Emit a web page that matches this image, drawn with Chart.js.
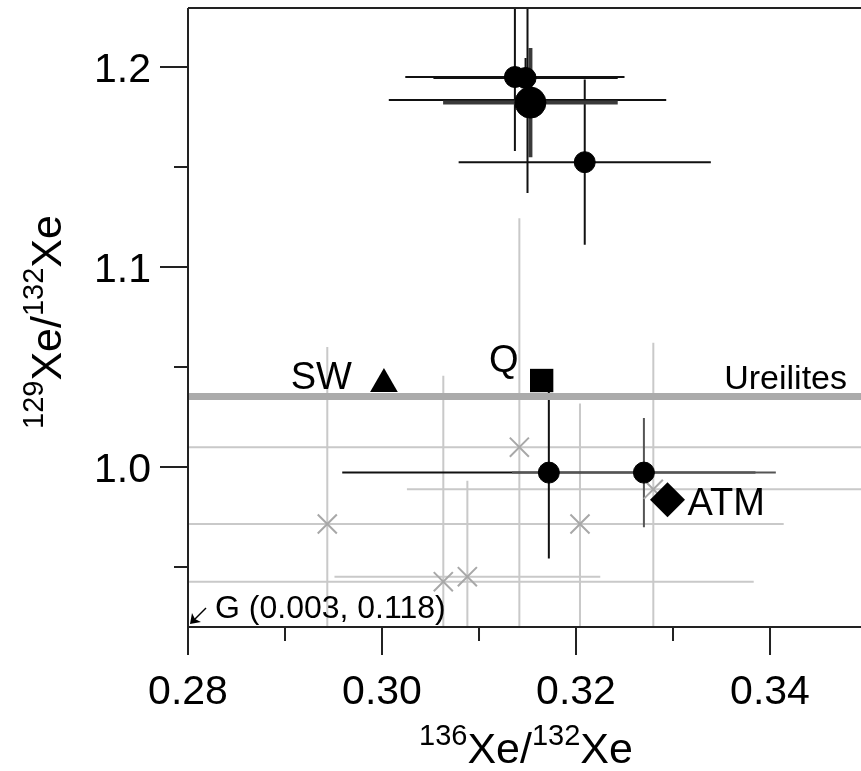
<!DOCTYPE html>
<html>
<head>
<meta charset="utf-8">
<script src="https://cdn.jsdelivr.net/npm/chart.js@4.4.1/dist/chart.umd.min.js"></script>
<style>
  html, body { margin: 0; padding: 0; background: #fff; }
  #wrap { width: 861px; height: 771px; }
</style>
</head>
<body>
<div id="wrap"><canvas id="xeChart" width="861" height="771"></canvas></div>
<script>
// axis ranges and ticks
const xMin = 0.28, xMax = 0.34938;
const yMin = 0.92, yMax = 1.2295;
const xTicksMajor = [0.28, 0.30, 0.32, 0.34];
const xTickLabels = ["0.28", "0.30", "0.32", "0.34"];
const xTicksMinor = [0.29, 0.31, 0.33];
const yTicksMajor = [1.0, 1.1, 1.2];
const yTickLabels = ["1.0", "1.1", "1.2"];
const yTicksMinor = [0.95, 1.05, 1.15];

// black data points (136/132, 129/132) with 1 sigma errors
const blackX = [0.3137, 0.3148, 0.3150, 0.3209, 0.3172, 0.3270];
const blackY = [1.1950, 1.1945, 1.1835, 1.1524, 0.9972, 0.9972];
const blackXErr = [0.0113, 0.0095, 0.0143, 0.0130, 0.0213, 0.0136];
const blackYErr = [0.0370, 0.0100, 0.0465, 0.0413, 0.0430, 0.0273];
const blackBarColor = ["#111", "#111", "#111", "#111", "#111", "#555"];

// the large point
const bigX = [0.3153];
const bigY = [1.1822];
const bigXErr = [0.0090];
const bigYErr = [0.0273];

// grey crosses
const greyX = [0.31416, 0.29436, 0.30632, 0.30880, 0.32041, 0.32797];
const greyY = [1.0099, 0.9715, 0.94265, 0.94515, 0.9715, 0.98885];
const greyXErr = [0.040, 0.040, 0.032, 0.0137, 0.021, 0.0254];
const greyYErr = [0.1145, 0.0885, 0.103, 0.048, 0.0603, 0.0733];

// reference components
const swPoint = { x: 0.3002, y: 1.0415 };
const qPoint = { x: 0.31646, y: 1.04325 };
const atmPoint = { x: 0.32943, y: 0.9836 };
const ureiliteY = 1.0352;

const FONT = '"Liberation Sans", Arial, Helvetica, sans-serif';

function toPts(xs, ys) {
  return xs.map((x, i) => ({ x: x, y: ys[i] }));
}

function drawBars(ctx, sx, sy, xs, ys, ex, ey, color, width) {
  xs.forEach((x, i) => {
    const px = sx.getPixelForValue(x), py = sy.getPixelForValue(ys[i]);
    ctx.strokeStyle = Array.isArray(color) ? color[i] : color;
    ctx.lineWidth = width;
    ctx.beginPath();
    ctx.moveTo(sx.getPixelForValue(x - ex[i]), py);
    ctx.lineTo(sx.getPixelForValue(x + ex[i]), py);
    ctx.moveTo(px, sy.getPixelForValue(ys[i] - ey[i]));
    ctx.lineTo(px, sy.getPixelForValue(ys[i] + ey[i]));
    ctx.stroke();
  });
}

function supText(ctx, parts, x, y, big, small) {
  // parts: [text, isSup]
  let cx = x;
  parts.forEach(p => {
    ctx.font = (p[1] ? small : big) + "px " + FONT;
    ctx.fillText(p[0], cx, p[1] ? y - big * 0.42 : y);
    cx += ctx.measureText(p[0]).width;
  });
  return cx - x;
}

function measureSup(ctx, parts, big, small) {
  let w = 0;
  parts.forEach(p => {
    ctx.font = (p[1] ? small : big) + "px " + FONT;
    w += ctx.measureText(p[0]).width;
  });
  return w;
}

const decor = {
  id: "decor",
  beforeDatasetsDraw(chart) {
    const { ctx, chartArea: a } = chart;
    const sx = chart.scales.x, sy = chart.scales.y;
    ctx.save();
    ctx.beginPath();
    ctx.rect(a.left, a.top, a.right - a.left, a.bottom - a.top);
    ctx.clip();
    drawBars(ctx, sx, sy, greyX, greyY, greyXErr, greyYErr, "#c9c9c9", 2);
    drawBars(ctx, sx, sy, blackX, blackY, blackXErr, blackYErr, blackBarColor, 2);
    drawBars(ctx, sx, sy, bigX, bigY, bigXErr, bigYErr, "#3a3a3a", 4);
    ctx.restore();
  },
  afterDraw(chart) {
    const { ctx, chartArea: a } = chart;
    const sx = chart.scales.x, sy = chart.scales.y;
    ctx.save();
    ctx.strokeStyle = "#222";
    ctx.fillStyle = "#000";
    ctx.lineWidth = 2;

    // frame: left, bottom, top
    ctx.beginPath();
    ctx.moveTo(a.left, a.top);
    ctx.lineTo(a.right, a.top);
    ctx.moveTo(a.left, a.top);
    ctx.lineTo(a.left, a.bottom);
    ctx.lineTo(a.right, a.bottom);
    ctx.stroke();

    // tick marks
    ctx.beginPath();
    xTicksMajor.forEach(v => { const p = sx.getPixelForValue(v); ctx.moveTo(p, a.bottom); ctx.lineTo(p, a.bottom + 28); });
    xTicksMinor.forEach(v => { const p = sx.getPixelForValue(v); ctx.moveTo(p, a.bottom); ctx.lineTo(p, a.bottom + 14); });
    yTicksMajor.forEach(v => { const p = sy.getPixelForValue(v); ctx.moveTo(a.left, p); ctx.lineTo(a.left - 28, p); });
    yTicksMinor.forEach(v => { const p = sy.getPixelForValue(v); ctx.moveTo(a.left, p); ctx.lineTo(a.left - 14, p); });
    ctx.stroke();

    // tick labels
    ctx.font = "41px " + FONT;
    ctx.textAlign = "center";
    ctx.textBaseline = "alphabetic";
    xTicksMajor.forEach((v, i) => ctx.fillText(xTickLabels[i], sx.getPixelForValue(v), 704));
    ctx.textAlign = "right";
    yTicksMajor.forEach((v, i) => ctx.fillText(yTickLabels[i], 151, sy.getPixelForValue(v) + 15));

    // axis titles with superscripts
    ctx.textAlign = "left";
    const xt = [["136", true], ["Xe/", false], ["132", true], ["Xe", false]];
    const xw = measureSup(ctx, xt, 43, 29);
    supText(ctx, xt, 526 - xw / 2, 763, 43, 29);
    const yt = [["129", true], ["Xe/", false], ["132", true], ["Xe", false]];
    const yw = measureSup(ctx, yt, 43, 29);
    ctx.save();
    ctx.translate(61, 322);
    ctx.rotate(-Math.PI / 2);
    supText(ctx, yt, -yw / 2, 0, 43, 29);
    ctx.restore();

    // component labels
    ctx.font = "38px " + FONT;
    ctx.textAlign = "right";
    ctx.fillText("SW", sx.getPixelForValue(swPoint.x) - 32, sy.getPixelForValue(swPoint.y) + 5);
    ctx.textAlign = "center";
    ctx.fillText("Q", sx.getPixelForValue(qPoint.x) - 38, sy.getPixelForValue(qPoint.y) - 9);
    ctx.textAlign = "left";
    ctx.fillText("ATM", sx.getPixelForValue(atmPoint.x) + 20, sy.getPixelForValue(atmPoint.y) + 15);
    ctx.font = "34px " + FONT;
    ctx.textAlign = "right";
    ctx.fillText("Ureilites", a.right - 14, sy.getPixelForValue(ureiliteY) - 8);

    // G arrow, pointing off the plot
    const tipX = a.left + 2, tipY = a.bottom - 3;
    ctx.strokeStyle = "#000";
    ctx.lineWidth = 1.5;
    ctx.beginPath();
    ctx.moveTo(tipX + 16, tipY - 16);
    ctx.lineTo(tipX + 3, tipY - 3);
    ctx.stroke();
    ctx.beginPath();
    ctx.moveTo(tipX, tipY);
    ctx.lineTo(tipX + 2, tipY - 11);
    ctx.lineTo(tipX + 5, tipY - 5);
    ctx.lineTo(tipX + 11, tipY - 2);
    ctx.closePath();
    ctx.fill();
    ctx.font = "32px " + FONT;
    ctx.textAlign = "left";
    ctx.fillText("G (0.003, 0.118)", a.left + 27, 618);

    ctx.restore();
  }
};

const ctx = document.getElementById("xeChart").getContext("2d");
new Chart(ctx, {
  type: "scatter",
  data: {
    datasets: [
      {
        label: "black",
        data: toPts(blackX, blackY),
        pointRadius: 10.5,
        pointBorderWidth: 1,
        pointBackgroundColor: "#000",
        pointBorderColor: "#000"
      },
      {
        label: "big",
        data: toPts(bigX, bigY),
        pointRadius: 15.5,
        pointBorderWidth: 1,
        pointBackgroundColor: "#000",
        pointBorderColor: "#000"
      },
      {
        label: "SW",
        data: [swPoint],
        pointStyle: "triangle",
        pointRadius: 16,
        pointBorderWidth: 0,
        pointBackgroundColor: "#000"
      },
      {
        label: "Q",
        data: [qPoint],
        pointStyle: "rect",
        pointRadius: 16.5,
        pointBorderWidth: 0,
        pointBackgroundColor: "#000"
      },
      {
        label: "ATM",
        data: [atmPoint],
        pointStyle: "rectRot",
        pointRadius: 17.5,
        pointBorderWidth: 0,
        pointBackgroundColor: "#000"
      },
      {
        label: "Ureilites",
        type: "line",
        data: [{ x: xMin, y: ureiliteY }, { x: xMax, y: ureiliteY }],
        borderColor: "#ababab",
        borderWidth: 7,
        pointRadius: 0
      },
      {
        label: "grey",
        data: toPts(greyX, greyY),
        pointStyle: "crossRot",
        pointRadius: 13.5,
        pointBorderWidth: 2,
        pointBorderColor: "#a8a8a8"
      }
    ]
  },
  options: {
    responsive: false,
    animation: false,
    layout: { autoPadding: false, padding: { left: 188, right: 0, top: 8, bottom: 144 } },
    plugins: { legend: { display: false }, tooltip: { enabled: false } },
    scales: {
      x: { type: "linear", min: xMin, max: xMax, display: false },
      y: { type: "linear", min: yMin, max: yMax, display: false }
    }
  },
  plugins: [decor]
});
</script>
</body>
</html>
